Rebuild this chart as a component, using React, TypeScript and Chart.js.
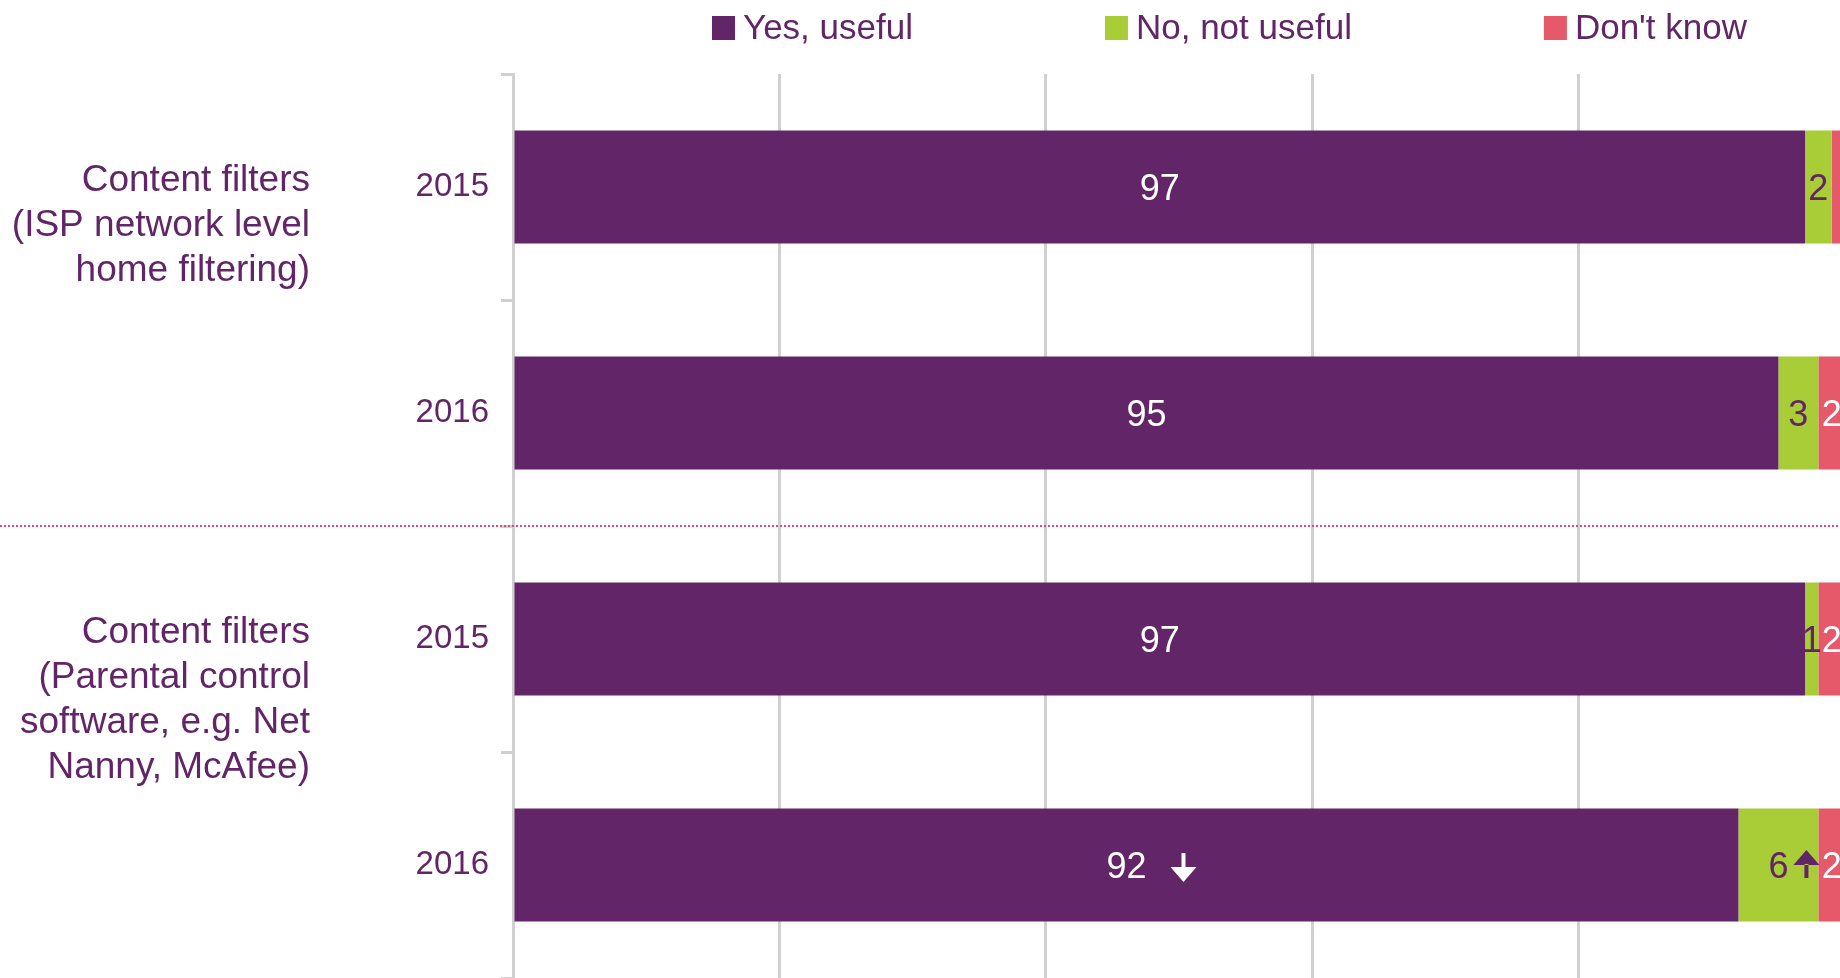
import React, { useEffect, useRef } from 'react';
import { Chart, registerables } from 'chart.js';

Chart.register(...registerables);

// ---------- data ----------
const categories = ['2015', '2016', '2015', '2016'];
const groupLabels: string[][] = [
  ['Content filters', '(ISP network level', 'home filtering)'],
  ['Content filters', '(Parental control', 'software, e.g. Net', 'Nanny, McAfee)'],
];
const groupStarts = [0, 2];
const seriesNames = ['Yes, useful', 'No, not useful', "Don't know"];
const yesValues = [97, 95, 97, 92];
const noValues = [2, 3, 1, 6];
const dontKnowValues = [1, 2, 2, 2];
const yesLabelShown = [true, true, true, true];
const noLabelShown = [true, true, true, true];
const dontKnowLabelShown = [false, true, true, true];
const yesChanges = ['', '', '', 'down'];
const noChanges = ['', '', '', 'up'];
const dontKnowChanges = ['', '', '', ''];
const xMin = 0;
const xMax = 100;
const xStep = 20;

// ---------- style ----------
const FONT = '"Liberation Sans", Arial, Helvetica, sans-serif';
const PURPLE = '#622567';
const GREEN = '#a8cd37';
const RED = '#e5596b';
const GRID = '#d0d0d0';
const SEP = '#e0467c';

function drawArrow(ctx: CanvasRenderingContext2D, cx: number, cy: number, dir: string, color: string) {
  const headW = 26;
  const headH = 15;
  const shaftW = 4;
  ctx.fillStyle = color;
  ctx.beginPath();
  if (dir === 'down') {
    const top = cy - 12;
    const tip = cy + 17;
    const headTop = tip - headH;
    ctx.rect(cx - shaftW / 2, top, shaftW, headTop - top + 1);
    ctx.moveTo(cx - headW / 2, headTop);
    ctx.lineTo(cx + headW / 2, headTop);
    ctx.lineTo(cx, tip);
    ctx.closePath();
  } else {
    const tip = cy - 15;
    const bottom = cy + 13;
    const headBase = tip + headH;
    ctx.rect(cx - shaftW / 2, headBase - 1, shaftW, bottom - headBase + 1);
    ctx.moveTo(cx - headW / 2, headBase);
    ctx.lineTo(cx + headW / 2, headBase);
    ctx.lineTo(cx, tip);
    ctx.closePath();
  }
  ctx.fill();
}

const barLabelPlugin = {
  id: 'barLabels',
  afterDatasetsDraw(chart: any) {
    const ctx: CanvasRenderingContext2D = chart.ctx;
    chart.data.datasets.forEach((ds: any, di: number) => {
      const meta = chart.getDatasetMeta(di);
      meta.data.forEach((bar: any, i: number) => {
        if (ds.labelShown && !ds.labelShown[i]) return;
        const { x, base, y } = bar.getProps(['x', 'base', 'y'], true);
        const cx = (x + base) / 2;
        const txt = String(ds.data[i]);
        ctx.save();
        ctx.font = `36px ${FONT}`;
        ctx.fillStyle = ds.labelColor;
        ctx.textAlign = 'center';
        ctx.textBaseline = 'middle';
        ctx.fillText(txt, cx, y + 3);
        const ch = ds.changes ? ds.changes[i] : '';
        if (ch) {
          const w = ctx.measureText(txt).width;
          const gap = Math.abs(x - base) > 200 ? 24 : 5;
          drawArrow(ctx, cx + w / 2 + gap + 13, y, ch, ds.labelColor);
        }
        ctx.restore();
      });
    });
  },
};

const decorPlugin = {
  id: 'decor',
  afterDraw(chart: any) {
    const ctx: CanvasRenderingContext2D = chart.ctx;
    const area = chart.chartArea;
    const yScale = chart.scales.y;
    ctx.save();
    // legend
    ctx.font = `35px ${FONT}`;
    ctx.textBaseline = 'middle';
    ctx.textAlign = 'left';
    let lx = area.left + 199;
    const ly = 28;
    chart.data.datasets.forEach((ds: any) => {
      ctx.fillStyle = ds.backgroundColor;
      ctx.fillRect(lx, ly - 12, 23, 24);
      ctx.fillStyle = PURPLE;
      ctx.fillText(ds.label, lx + 31, ly + 1);
      lx += 31 + ctx.measureText(ds.label).width + 192;
    });
    // group labels
    ctx.font = `37px ${FONT}`;
    ctx.textAlign = 'right';
    ctx.fillStyle = PURPLE;
    groupLabels.forEach((lines, g) => {
      const y0 = yScale.getPixelForValue(groupStarts[g]) - 6;
      lines.forEach((line, k) => {
        ctx.fillText(line, 310, y0 + k * 45);
      });
    });
    // separators between groups
    ctx.strokeStyle = SEP;
    ctx.lineWidth = 2;
    ctx.setLineDash([2, 2]);
    groupStarts.slice(1).forEach((s) => {
      const ys = Math.round((yScale.getPixelForValue(s - 1) + yScale.getPixelForValue(s)) / 2);
      ctx.beginPath();
      ctx.moveTo(0, ys);
      ctx.lineTo(chart.width, ys);
      ctx.stroke();
    });
    ctx.restore();
  },
};

export default function App() {
  const canvasRef = useRef<HTMLCanvasElement | null>(null);

  useEffect(() => {
    if (!canvasRef.current) return;
    Chart.defaults.font.family = FONT;
    const chart = new Chart(canvasRef.current, {
      type: 'bar',
      data: {
        labels: categories,
        datasets: [
          {
            label: seriesNames[0],
            data: yesValues,
            backgroundColor: PURPLE,
            labelColor: '#ffffff',
            labelShown: yesLabelShown,
            changes: yesChanges,
          } as any,
          {
            label: seriesNames[1],
            data: noValues,
            backgroundColor: GREEN,
            labelColor: PURPLE,
            labelShown: noLabelShown,
            changes: noChanges,
          } as any,
          {
            label: seriesNames[2],
            data: dontKnowValues,
            backgroundColor: RED,
            labelColor: '#ffffff',
            labelShown: dontKnowLabelShown,
            changes: dontKnowChanges,
          } as any,
        ],
      },
      options: {
        indexAxis: 'y',
        animation: false,
        responsive: true,
        maintainAspectRatio: false,
        layout: { padding: { top: 74, right: 1, bottom: 2, left: 0 } },
        datasets: { bar: { barPercentage: 0.5, categoryPercentage: 1.0, borderWidth: 0 } },
        plugins: {
          legend: { display: false },
          tooltip: { enabled: false },
        },
        scales: {
          x: {
            stacked: true,
            min: xMin,
            max: xMax,
            ticks: { display: false, stepSize: xStep },
            grid: { color: GRID, lineWidth: 3, drawTicks: false },
            border: { display: false },
            afterFit(scale: any) {
              scale.height = 0;
              scale.paddingLeft = 0;
              scale.paddingRight = 0;
            },
          },
          y: {
            stacked: true,
            offset: true,
            grid: {
              display: true,
              drawOnChartArea: false,
              drawTicks: true,
              tickLength: 12,
              offset: true,
              color: GRID,
              lineWidth: 3,
            },
            border: { display: true, color: GRID, width: 3 },
            ticks: { color: PURPLE, font: { size: 33, family: FONT }, padding: 12 },
            afterFit(scale: any) {
              scale.width = 513;
              scale.paddingTop = 0;
              scale.paddingBottom = 0;
            },
          },
        },
      },
      plugins: [barLabelPlugin, decorPlugin],
    });
    return () => chart.destroy();
  }, []);

  return (
    <div style={{ position: 'absolute', left: 0, top: 0, width: 1840, height: 978, overflow: 'hidden', background: '#ffffff' }}>
      <div style={{ position: 'relative', width: 1846, height: 980 }}>
        <canvas ref={canvasRef} />
      </div>
    </div>
  );
}
